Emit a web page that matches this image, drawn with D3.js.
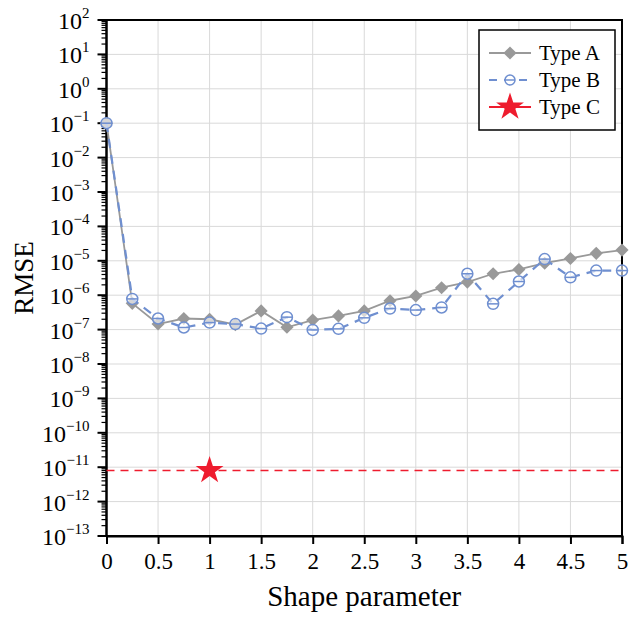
<!DOCTYPE html>
<html>
<head>
<meta charset="utf-8">
<script src="https://cdn.jsdelivr.net/npm/d3@7.9.0/dist/d3.min.js"></script>
<style>
  body { margin: 0; background: #fff; }
  svg { font-family: "Liberation Serif", "Times New Roman", serif; }
</style>
</head>
<body>
<svg id="chart" width="630" height="618"></svg>
<script>
// Shape parameter values (x)
const shapeParams = [0, 0.25, 0.5, 0.75, 1, 1.25, 1.5, 1.75, 2, 2.25, 2.5,
  2.75, 3, 3.25, 3.5, 3.75, 4, 4.25, 4.5, 4.75, 5];

// RMSE
const typeA = [0.1, 5.8e-7, 1.45e-7, 2.1e-7, 2.0e-7, 1.4e-7, 3.5e-7, 1.17e-7, 1.9e-7, 2.5e-7, 3.5e-7,
  6.9e-7, 9.5e-7, 1.65e-6, 2.4e-6, 4.2e-6, 5.6e-6, 8.5e-6, 1.17e-5, 1.65e-5, 2.05e-5];
const typeB = [0.1, 7.8e-7, 2.1e-7, 1.15e-7, 1.6e-7, 1.45e-7, 1.07e-7, 2.3e-7, 9.8e-8, 1.05e-7, 2.2e-7,
  4.1e-7, 3.7e-7, 4.4e-7, 4.2e-6, 5.6e-7, 2.5e-6, 1.12e-5, 3.3e-6, 5.2e-6, 5.2e-6];
const typeC = { x: 1, y: 8e-12 };

const xTicks = [0, 0.5, 1, 1.5, 2, 2.5, 3, 3.5, 4, 4.5, 5];
const yExponents = d3.range(-13, 3);

const colorA = '#999999';
const colorB = '#6f8fd0';
const colorC = '#ee1c2e';

const margin = { top: 20, right: 8, bottom: 82, left: 106.5 };
const width = 630, height = 618;

const svg = d3.select('#chart');

const x = d3.scaleLinear().domain([0, 5]).range([margin.left, width - margin.right]);
const y = d3.scaleLog().domain([1e-13, 1e2]).range([height - margin.bottom, margin.top]);

// grid
const grid = svg.append('g').attr('stroke', '#d9d9d9').attr('stroke-width', 1);
xTicks.forEach(t => {
  grid.append('line')
    .attr('x1', x(t)).attr('x2', x(t))
    .attr('y1', y.range()[1]).attr('y2', y.range()[0]);
});
yExponents.forEach(e => {
  grid.append('line')
    .attr('x1', x.range()[0]).attr('x2', x.range()[1])
    .attr('y1', y(Math.pow(10, e))).attr('y2', y(Math.pow(10, e)));
});

// frame
svg.append('rect')
  .attr('x', x.range()[0]).attr('y', y.range()[1])
  .attr('width', x.range()[1] - x.range()[0])
  .attr('height', y.range()[0] - y.range()[1])
  .attr('fill', 'none').attr('stroke', '#000').attr('stroke-width', 2);

// x axis
const xAxis = svg.append('g')
  .attr('transform', `translate(0,${y.range()[0]})`)
  .call(d3.axisBottom(x).tickValues(xTicks).tickSize(8).tickPadding(9).tickFormat(d3.format('')));
xAxis.select('.domain').attr('stroke-width', 2);
xAxis.selectAll('.tick line').attr('stroke-width', 2);
xAxis.selectAll('.tick text').attr('font-size', 23).attr('font-family', 'Liberation Serif');

// y axis: minor ticks
const minor = [];
yExponents.slice(0, -1).forEach(e => {
  for (let k = 2; k <= 9; k++) minor.push(k * Math.pow(10, e));
});
const yAxisG = svg.append('g').attr('transform', `translate(${x.range()[0]},0)`);
yAxisG.selectAll('line.minor').data(minor).join('line')
  .attr('class', 'minor')
  .attr('x1', -5).attr('x2', 0)
  .attr('y1', d => y(d)).attr('y2', d => y(d))
  .attr('stroke', '#000').attr('stroke-width', 1.2);
yAxisG.selectAll('line.major').data(yExponents).join('line')
  .attr('class', 'major')
  .attr('x1', -9).attr('x2', 0)
  .attr('y1', d => y(Math.pow(10, d))).attr('y2', d => y(Math.pow(10, d)))
  .attr('stroke', '#000').attr('stroke-width', 2);
yAxisG.append('line')
  .attr('x1', 0).attr('x2', 0).attr('y1', y.range()[0]).attr('y2', y.range()[1])
  .attr('stroke', '#000').attr('stroke-width', 2);

const yLabels = yAxisG.selectAll('text.ylab').data(yExponents).join('text')
  .attr('class', 'ylab')
  .attr('x', -17)
  .attr('y', d => y(Math.pow(10, d)) + 9)
  .attr('text-anchor', 'end')
  .attr('font-size', 24)
  .attr('fill', '#000');
yLabels.append('tspan').text('10');
yLabels.append('tspan')
  .attr('dy', -11).attr('font-size', 15)
  .text(d => d < 0 ? '\u2212' + Math.abs(d) : String(d));

// axis titles
svg.append('text')
  .attr('x', (x.range()[0] + x.range()[1]) / 2)
  .attr('y', 606)
  .attr('text-anchor', 'middle')
  .attr('font-size', 29)
  .text('Shape parameter');
svg.append('text')
  .attr('transform', `translate(33,${(y.range()[0] + y.range()[1]) / 2}) rotate(-90)`)
  .attr('text-anchor', 'middle')
  .attr('font-size', 27)
  .text('RMSE');

// series
const line = d3.line().x(d => x(d[0])).y(d => y(d[1]));
const dataA = shapeParams.map((p, i) => [p, typeA[i]]);
const dataB = shapeParams.map((p, i) => [p, typeB[i]]);

// Type C reference line
svg.append('line')
  .attr('x1', x.range()[0]).attr('x2', x.range()[1])
  .attr('y1', y(typeC.y)).attr('y2', y(typeC.y))
  .attr('stroke', colorC).attr('stroke-width', 1.5)
  .attr('stroke-dasharray', '8,6');

svg.append('path').datum(dataA)
  .attr('d', line).attr('fill', 'none')
  .attr('stroke', colorA).attr('stroke-width', 1.8);

const diamond = d3.symbol().type(d3.symbolDiamond2).size(110);
svg.selectAll('path.ma').data(dataA).join('path')
  .attr('class', 'ma')
  .attr('transform', d => `translate(${x(d[0])},${y(d[1])})`)
  .attr('d', diamond)
  .attr('fill', colorA);

svg.append('path').datum(dataB)
  .attr('d', line).attr('fill', 'none')
  .attr('stroke', colorB).attr('stroke-width', 2.2)
  .attr('stroke-dasharray', '9,7');

const bMarks = svg.selectAll('g.mb').data(dataB).join('g')
  .attr('class', 'mb')
  .attr('transform', d => `translate(${x(d[0])},${y(d[1])})`);
bMarks.append('circle').attr('r', 5.5)
  .attr('fill', '#fff').attr('fill-opacity', 0.6)
  .attr('stroke', colorB).attr('stroke-width', 1.5);
bMarks.append('line').attr('x1', -5.5).attr('x2', 5.5)
  .attr('stroke', colorB).attr('stroke-width', 1.5);

const star = d3.symbol().type(d3.symbolStar).size(240);
svg.append('path')
  .attr('transform', `translate(${x(typeC.x)},${y(typeC.y)})`)
  .attr('d', star)
  .attr('fill', colorC);

// legend
const lg = svg.append('g').attr('transform', 'translate(479,30)');
lg.append('rect').attr('width', 136).attr('height', 100)
  .attr('fill', '#fff').attr('stroke', '#000').attr('stroke-width', 1.5);
const items = [
  { name: 'Type A', color: colorA, dash: null, w: 1.8 },
  { name: 'Type B', color: colorB, dash: '8,7', w: 2.2 },
  { name: 'Type C', color: colorC, dash: null, w: 2 }
];
items.forEach((it, i) => {
  const cy = 23 + i * 27;
  lg.append('line').attr('x1', 10).attr('x2', 52).attr('y1', cy).attr('y2', cy)
    .attr('stroke', it.color).attr('stroke-width', it.w)
    .attr('stroke-dasharray', it.dash);
  const g = lg.append('g').attr('transform', `translate(31,${cy})`);
  if (i === 0) g.append('path').attr('d', diamond).attr('fill', colorA);
  if (i === 1) {
    g.append('circle').attr('r', 5).attr('fill', '#fff').attr('stroke', colorB).attr('stroke-width', 1.5);
    g.append('line').attr('x1', -5).attr('x2', 5).attr('stroke', colorB).attr('stroke-width', 1.5);
  }
  if (i === 2) g.append('path').attr('d', star).attr('fill', colorC);
  lg.append('text').attr('x', 60).attr('y', cy + 7)
    .attr('font-size', 21).text(it.name);
});
</script>
</body>
</html>
